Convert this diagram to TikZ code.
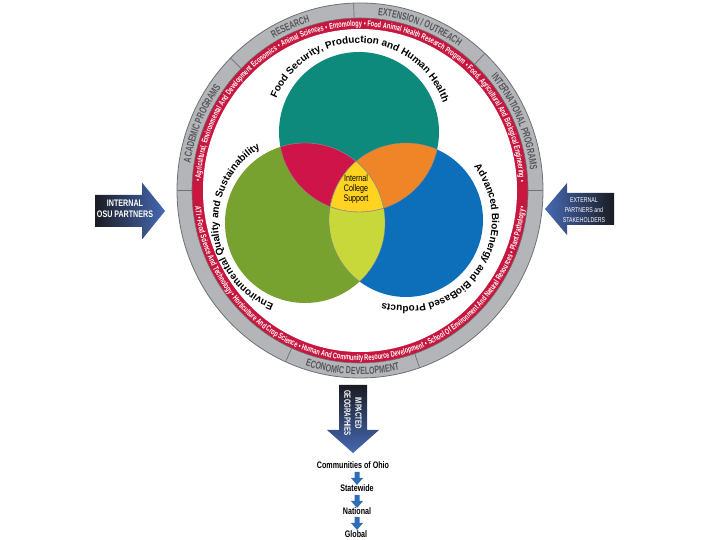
\documentclass[tikz,border=0pt]{standalone}
\usepackage{fontspec}
\setmainfont{Liberation Sans}
\newfontfamily\condf{Liberation Sans}[FakeStretch=0.75]
\newfontfamily\narf{Liberation Sans}[FakeStretch=0.68]
\usetikzlibrary{decorations.text,calc}
\definecolor{ringgray}{HTML}{B3B5B8}
\definecolor{ringline}{HTML}{6E7073}
\definecolor{ringtext}{HTML}{55575A}
\definecolor{ringred}{HTML}{C8173F}
\definecolor{vteal}{HTML}{0E8A7C}
\definecolor{vgreen}{HTML}{77A22F}
\definecolor{vblue}{HTML}{0D6FBA}
\definecolor{vred}{HTML}{CF1449}
\definecolor{vorange}{HTML}{EF8526}
\definecolor{vlime}{HTML}{C8D83A}
\definecolor{vyellow}{HTML}{FFD320}
\definecolor{arrdark}{HTML}{1B1C22}
\definecolor{arrmid}{HTML}{272D48}
\definecolor{arrblue}{HTML}{4669B4}
\definecolor{listblue}{HTML}{2F6DB6}
\tikzset{
  graytext/.style={decorate, decoration={text along path, text align=center, text color=ringtext,
      text={|\narf\bfseries\fontsize{10.5}{12}\selectfont|#1}}},
  redtext/.style={decorate, decoration={text along path, text align=center, text color=white,
      text={|\narf\bfseries\fontsize{8.2}{9}\selectfont|#1}}},
  redfit/.style={decorate, decoration={text along path, text align={fit to path stretching spaces}, text color=white,
      text={|\narf\bfseries\fontsize{8.2}{9}\selectfont|#1}}},
  venntext/.style={decorate, decoration={text along path, text align=center,
      text={|\bfseries\fontsize{10}{12}\selectfont|#1}}},
  innerline/.style={draw=black!45, line width=0.35pt},
  arrowlabel/.style={text=white, align=center, inner sep=0pt},
  listlabel/.style={font=\condf\bfseries\fontsize{9.5}{11}\selectfont, inner sep=0pt},
}
\begin{document}
\begin{tikzpicture}[x=1pt,y=1pt]
\useasboundingbox (0,0) rectangle (720,540);
\coordinate (C) at (360,349.5);
% ring
\fill[ringgray] (C) ellipse[x radius=183,y radius=187.5];
\draw[ringline,line width=0.8] (C) ellipse[x radius=183,y radius=187.5];
\fill[ringred] (C) ellipse[x radius=168,y radius=172.5];
\draw[ringline,line width=0.6] (C) ellipse[x radius=168,y radius=172.5];
\fill[white] (C) ellipse[x radius=157,y radius=161.5];
\foreach \a in {0,47,92,135,180,246,289}
  \draw[ringline,line width=0.7] ($(C)+(\a:168 and 172.5)$) -- ($(C)+(\a:183 and 187.5)$);
% gray band labels
\path[graytext={RESEARCH}] ($(C)+(135:171.5 and 176)$) arc[start angle=135,end angle=92,x radius=171.5,y radius=176];
\path[graytext={EXTENSION / OUTREACH}] ($(C)+(92:171.5 and 176)$) arc[start angle=92,end angle=47,x radius=171.5,y radius=176];
\path[graytext={INTERNATIONAL PROGRAMS}] ($(C)+(47:171.5 and 176)$) arc[start angle=47,end angle=0,x radius=171.5,y radius=176];
\path[graytext={ACADEMIC PROGRAMS}] ($(C)+(180:171.5 and 176)$) arc[start angle=180,end angle=135,x radius=171.5,y radius=176];
\path[graytext={ECONOMIC DEVELOPMENT}] ($(C)+(246:179.5 and 184)$) arc[start angle=246,end angle=289,x radius=179.5,y radius=184];
% red band labels
\path[redfit={• Agricultural, Environmental And Development Economics • Animal Sciences • Entomology • Food Animal Health Research Program • Food, Agricultural And Biological Engineering •}]
  ($(C)+(177:159.6 and 164.1)$) arc[start angle=177,end angle=3,x radius=159.6,y radius=164.1];
\path[redtext={ATI • Food Science And Technology • Horticulture And Crop Science • Human And Community Resource Development • School Of Environment And Natural Resources • Plant Pathology •}]
  ($(C)+(182:165.5 and 170)$) arc[start angle=182,end angle=358,x radius=165.5,y radius=170];
% Venn
\coordinate (T) at (359,408);
\coordinate (G) at (305,317);
\coordinate (B) at (406,320);
\fill[vteal] (T) circle (80);
\fill[vgreen] (G) circle (80);
\fill[vblue] (B) circle (77);
\begin{scope}
  \clip (T) circle (80);
  \fill[vred] (G) circle (80);
  \fill[vorange] (B) circle (77);
\end{scope}
\begin{scope}
  \clip (G) circle (80);
  \fill[vlime] (B) circle (77);
  \clip (T) circle (80);
  \fill[vyellow] (B) circle (77);
\end{scope}
\begin{scope}
  \clip (T) circle (80);
  \path[innerline] (G) circle (80) (B) circle (77);
\end{scope}
\begin{scope}
  \clip (G) circle (80);
  \path[innerline] (T) circle (80) (B) circle (77);
\end{scope}
\begin{scope}
  \clip (B) circle (77);
  \path[innerline] (T) circle (80) (G) circle (80);
\end{scope}
\node[font=\condf\fontsize{9.5}{10}\selectfont, align=center, inner sep=0pt] (ics) at (356,351) {Internal\\College\\Support};
% Venn labels
\path[venntext={Food Security, Production and Human Health}] ($(T)+(178:89)$) arc[start angle=178,end angle=-1,radius=89];
\path[venntext={Environmental Quality and Sustainability}] ($(G)+(275:87)$) arc[start angle=275,end angle=95,radius=87];
\path[venntext={Advanced BioEnergy and BioBased Products}] ($(B)+(56:86)$) arc[start angle=56,end angle=-124,radius=86];
% left arrow
\shade[left color=arrdark, middle color=arrmid, right color=arrblue]
  (95,345) -- (142,345) -- (142,357.5) -- (165,329) -- (142,300.5) -- (142,313) -- (95,313) -- cycle;
\node[arrowlabel, font=\condf\bfseries\fontsize{9.5}{11}\selectfont] (inl) at (125,331.5) {INTERNAL\\OSU PARTNERS};
% right arrow
\shade[left color=arrblue, middle color=arrmid, right color=arrdark]
  (545,331) -- (567,357) -- (567,347) -- (614,347) -- (614,315) -- (567,315) -- (567,305) -- cycle;
\node[arrowlabel, font=\condf\fontsize{7}{10}\selectfont] (ext) at (584,330) {EXTERNAL\\PARTNERS and\\STAKEHOLDERS};
% bottom arrow
\shade[top color=arrdark, middle color=arrmid, bottom color=arrblue]
  (339,155) -- (367,155) -- (367,110) -- (379,110) -- (353,87) -- (327,110) -- (339,110) -- cycle;
\node[arrowlabel, rotate=-90, font=\narf\bfseries\fontsize{9}{11}\selectfont] (imp) at (353,127) {IMPACTED\\GEOGRAPHIES};
% list
\node[listlabel] (l1) at (353,75) {Communities of Ohio};
\node[listlabel] (l2) at (357,52) {Statewide};
\node[listlabel] (l3) at (357,29) {National};
\node[listlabel] (l4) at (356,6) {Global};
\foreach \t in {472,495,517}{
  \pgfmathsetmacro{\ya}{540-\t}
  \pgfmathsetmacro{\yb}{540-\t-6}
  \pgfmathsetmacro{\yc}{540-\t-13}
  \fill[listblue] (354.5,\ya) -- (359.5,\ya) -- (359.5,\yb) -- (363,\yb) -- (357,\yc) -- (351,\yb) -- (354.5,\yb) -- cycle;
}
\end{tikzpicture}
\end{document}
